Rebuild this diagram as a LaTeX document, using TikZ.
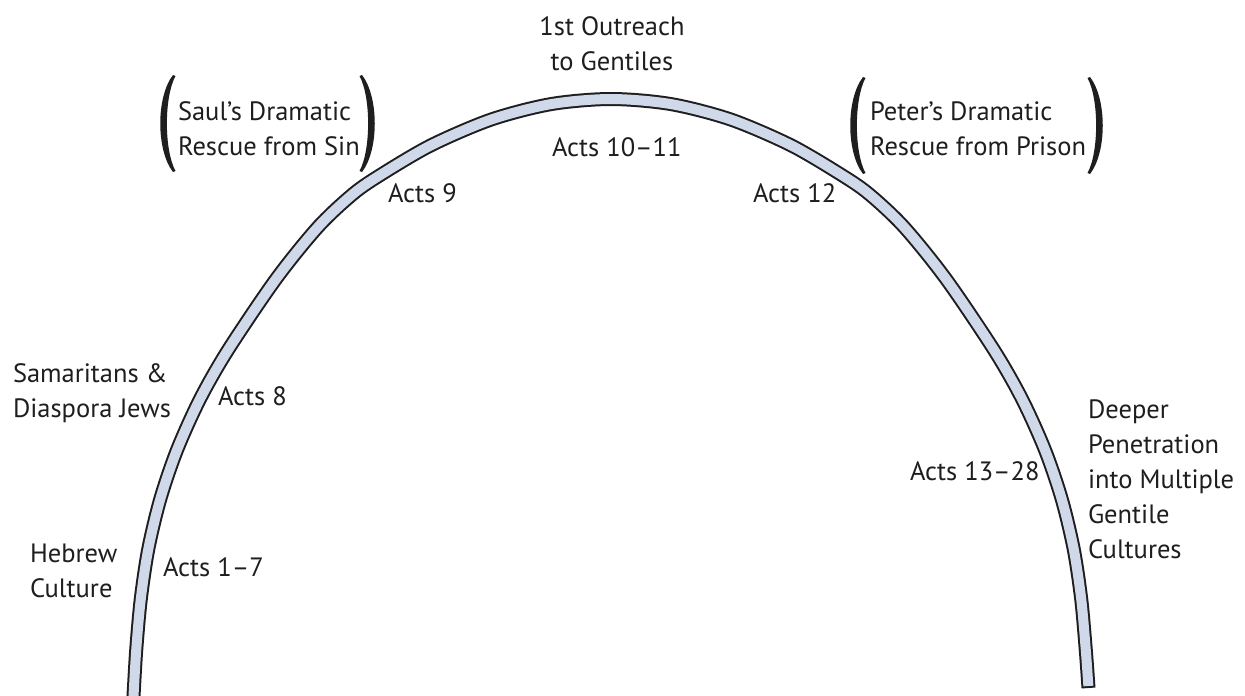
\documentclass[tikz,border=0pt]{standalone}
\usepackage{fontspec}
\setmainfont{PT Sans}
\definecolor{archfill}{RGB}{208,217,233}
\definecolor{ink}{RGB}{30,30,30}
\begin{document}
\begin{tikzpicture}[x=1pt,y=-1pt,
  lbl/.style={inner sep=0pt, outer sep=0pt, text=ink,
    font=\fontsize{26.5}{35}\selectfont},
  lft/.style={lbl, align=left, anchor=base west},
  ctr/.style={lbl, align=center, anchor=base},
  lparen/.pic={\fill[ink] (0,0) .. controls (-17,22) and (-17,75) .. (0,97)
     -- (2.5,96) .. controls (-9,75) and (-9,22) .. (2.5,1) -- cycle;}]
\useasboundingbox (0,0) rectangle (1245,696);
\fill[white] (0,0) rectangle (1245,696);

% the arch: dark outline, light band inside
\draw[line width=14pt, ink] plot[smooth] coordinates {
  (133,705) (133.5,696) (136.3,649) (140.8,599) (148.3,549) (160.3,499)
  (177,450) (200,399) (228,350) (276,279) (318,227) (353,194) (381,174.6)
  (431,145.3) (491,119.6) (551,104.1) (611,99) (671,104.1) (731,119.6)
  (791,145.3) (841,174.6) (869,194) (904,227) (946,279) (994,350)
  (1022,399) (1045,450) (1061.7,499) (1073.7,549) (1081.2,599)
  (1085.7,649) (1088.5,688)};
\draw[line width=10pt, archfill, shorten >=2pt] plot[smooth] coordinates {
  (133,705) (133.5,696) (136.3,649) (140.8,599) (148.3,549) (160.3,499)
  (177,450) (200,399) (228,350) (276,279) (318,227) (353,194) (381,174.6)
  (431,145.3) (491,119.6) (551,104.1) (611,99) (671,104.1) (731,119.6)
  (791,145.3) (841,174.6) (869,194) (904,227) (946,279) (994,350)
  (1022,399) (1045,450) (1061.7,499) (1073.7,549) (1081.2,599)
  (1085.7,649) (1088.5,688)};

% stage labels along the arch
\node[ctr] (outreach) at (612,70) {1st Outreach\\to Gentiles};
\node[lft] (a1011) at (552,156) {Acts 10–11};
\node[lft] (a9) at (388,202) {Acts 9};
\node[lft] (a12) at (753,202) {Acts 12};
\node[lft] (a8) at (218,405) {Acts 8};
\node[lft] (a17) at (163,576) {Acts 1–7};
\node[lft] (a1328) at (910,480) {Acts 13–28};

% descriptions outside the arch (anchored at the last line's baseline)
\node[lft] (samaritans) at (13,417) {Samaritans \&\\Diaspora Jews};
\node[lft] (hebrew) at (30,597) {Hebrew\\Culture};
\node[lft] (deeper) at (1088,558) {Deeper\\Penetration\\into Multiple\\Gentile\\Cultures};

% bracketed asides
\node[lft] (saul) at (178,155) {Saul’s Dramatic\\Rescue from Sin};
\pic at (173,75) {lparen};
\pic[xscale=-1] at (362,75) {lparen};
\node[lft] (peter) at (870,155) {Peter’s Dramatic\\Rescue from Prison};
\pic at (863,77) {lparen};
\pic[xscale=-1] at (1090,77) {lparen};
\end{tikzpicture}
\end{document}
